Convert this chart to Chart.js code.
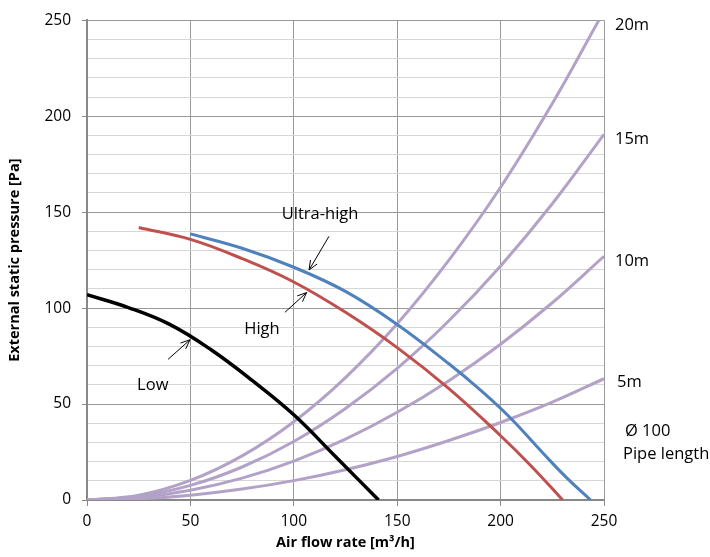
<!DOCTYPE html>
<html>
<head>
<meta charset="utf-8">
<script src="https://cdn.jsdelivr.net/npm/chart.js@4"></script>
<style>
  html, body { margin: 0; padding: 0; background: #fff; }
  #wrap { width: 710px; height: 557px; }
</style>
</head>
<body>
<div id="wrap"><canvas id="fanChart" width="710" height="557"></canvas></div>
<script>
// Fan curves (air flow m3/h -> static pressure Pa)
const lowFlow = [0, 20, 40, 60, 80, 100, 120, 141];
const lowPressure = [107, 100.3, 91.5, 78.3, 62.2, 44.4, 22.8, 0];

const highFlow = [25, 50, 75, 100, 125, 150, 175, 200, 215, 230];
const highPressure = [142, 135.8, 125.8, 113.6, 97.8, 79.4, 58, 33.5, 17.5, 0];

const ultraFlow = [50, 75, 100, 125, 150, 175, 190, 205, 220, 232, 243.5];
const ultraPressure = [138.7, 131.2, 121.3, 108.7, 91.5, 71, 57.5, 42.5, 25, 11.5, 0];

// Pipe resistance curves, Ø100
const pipeFlow = [0, 25, 50, 75, 100, 125, 150, 175, 200, 225, 250];
const pipe20Flow = [0, 25, 50, 75, 100, 125, 150, 175, 200, 225, 247.5];
const pipe5m = [0, 0.6, 2.5, 5.7, 10.1, 15.8, 22.7, 31, 40.4, 51, 63.2];
const pipe10m = [0, 1.3, 5.1, 11.4, 20.3, 31.7, 45.7, 62.2, 81.2, 102.8, 127];
const pipe15m = [0, 1.9, 7.6, 17.2, 30.5, 47.7, 68.6, 93.4, 122, 154.4, 190.6];
const pipe20m = [0, 2.5, 10.2, 23, 40.8, 63.8, 91.8, 125, 163, 206.6, 250];

const xTicks = [0, 50, 100, 150, 200, 250];
const yTicks = [0, 50, 100, 150, 200, 250];
const yGridStep = 10;

const toPoints = (xs, ys) => xs.map((x, i) => ({ x: x, y: ys[i] }));

const TEXT_FONT = "16.5px 'Open Sans'";

// labels inside the plot, placed in data units
const curveLabels = [
  { text: "Ultra-high", x: 112.7, y: 149.1, from: [117, 137.4], to: [107.4, 119.9] },
  { text: "High", x: 84.6, y: 89.1, from: [95.7, 97.8], to: [106.2, 108.1] },
  { text: "Low", x: 31.8, y: 59.9, from: [39.2, 73.3], to: [49.8, 83.5] },
];

// labels right of the plot (y in data units, dx in px from the plot edge)
const sideLabels = [
  { text: "20m", y: 247.4, dx: 11 },
  { text: "15m", y: 188, dx: 11 },
  { text: "10m", y: 124.5, dx: 11 },
  { text: "5m", y: 61.5, dx: 13 },
  { text: "Ø 100", y: 35.9, dx: 21 },
  { text: "Pipe length", y: 24, dx: 19 },
];

function drawArrow(ctx, x1, y1, x2, y2) {
  const ang = Math.atan2(y2 - y1, x2 - x1);
  const head = 10;
  ctx.beginPath();
  ctx.moveTo(x1, y1);
  ctx.lineTo(x2, y2);
  ctx.moveTo(x2 - head * Math.cos(ang - 0.4), y2 - head * Math.sin(ang - 0.4));
  ctx.lineTo(x2, y2);
  ctx.lineTo(x2 - head * Math.cos(ang + 0.4), y2 - head * Math.sin(ang + 0.4));
  ctx.stroke();
}

const labelPlugin = {
  id: "curveLabels",
  afterDatasetsDraw(chart) {
    const { ctx, scales, chartArea } = chart;
    const xs = scales.x;
    const ys = scales.y;
    ctx.save();
    ctx.fillStyle = "#000";
    ctx.strokeStyle = "#000";
    ctx.lineWidth = 1;
    ctx.font = TEXT_FONT;
    ctx.textBaseline = "middle";

    ctx.textAlign = "center";
    curveLabels.forEach((l) => {
      ctx.fillText(l.text, xs.getPixelForValue(l.x), ys.getPixelForValue(l.y));
      drawArrow(
        ctx,
        xs.getPixelForValue(l.from[0]), ys.getPixelForValue(l.from[1]),
        xs.getPixelForValue(l.to[0]), ys.getPixelForValue(l.to[1])
      );
    });

    ctx.textAlign = "left";
    sideLabels.forEach((l) => {
      ctx.fillText(l.text, chartArea.right + l.dx, ys.getPixelForValue(l.y));
    });
    ctx.restore();
  },
};

const fanLine = { showLine: true, pointRadius: 0, borderWidth: 3, tension: 0.4 };
const pipeLine = { ...fanLine, borderColor: "#B3A2C7", borderWidth: 3 };

new Chart(document.getElementById("fanChart").getContext("2d"), {
  type: "scatter",
  data: {
    datasets: [
      { label: "Ultra-high", data: toPoints(ultraFlow, ultraPressure), borderColor: "#4F81BD", ...fanLine },
      { label: "High", data: toPoints(highFlow, highPressure), borderColor: "#C0504D", ...fanLine },
      { label: "Low", data: toPoints(lowFlow, lowPressure), borderColor: "#000000", ...fanLine, borderWidth: 3.5 },
      { label: "20m", data: toPoints(pipe20Flow, pipe20m), ...pipeLine },
      { label: "15m", data: toPoints(pipeFlow, pipe15m), ...pipeLine },
      { label: "10m", data: toPoints(pipeFlow, pipe10m), ...pipeLine },
      { label: "5m", data: toPoints(pipeFlow, pipe5m), ...pipeLine },
    ],
  },
  options: {
    responsive: false,
    animation: false,
    devicePixelRatio: 1,
    layout: { padding: { top: 12, right: 106, left: 0, bottom: 0 } },
    plugins: {
      legend: { display: false },
      tooltip: { enabled: false },
    },
    scales: {
      x: {
        type: "linear",
        min: 0,
        max: 250,
        afterFit: (scale) => { scale.height = 57; },
        afterBuildTicks: (scale) => { scale.ticks = xTicks.map((v) => ({ value: v })); },
        ticks: { color: "#000", font: { family: "Open Sans", size: 15.5 }, padding: 6 },
        grid: { color: "#9a9a9a", tickColor: "#888", tickLength: 6 },
        border: { color: "#888", width: 2 },
        title: {
          display: true,
          text: "Air flow rate [m³/h]",
          color: "#000",
          font: { family: "Open Sans", size: 14.5, weight: "bold" },
          padding: { top: 0, bottom: 5 },
        },
      },
      y: {
        min: 0,
        max: 250,
        afterFit: (scale) => { scale.width = 87; },
        afterBuildTicks: (scale) => {
          const ticks = [];
          for (let v = 0; v <= 250; v += yGridStep) ticks.push({ value: v });
          scale.ticks = ticks;
        },
        ticks: {
          color: "#000",
          font: { family: "Open Sans", size: 15.5 },
          padding: 11,
          autoSkip: false,
          callback: (v) => (yTicks.includes(v) ? v : ""),
        },
        grid: {
          color: (c) => (c.tick && c.tick.value % 50 === 0 ? "#9a9a9a" : "#d6d6d6"),
          tickColor: (c) => (c.tick && c.tick.value % 50 === 0 ? "#888" : "rgba(0,0,0,0)"),
          tickLength: 5,
        },
        border: { color: "#888", width: 2 },
        title: {
          display: true,
          text: "External static pressure [Pa]",
          color: "#000",
          font: { family: "Open Sans", size: 14.5, weight: "bold" },
          padding: { top: 6, bottom: 0 },
        },
      },
    },
  },
  plugins: [labelPlugin],
});
</script>
</body>
</html>
